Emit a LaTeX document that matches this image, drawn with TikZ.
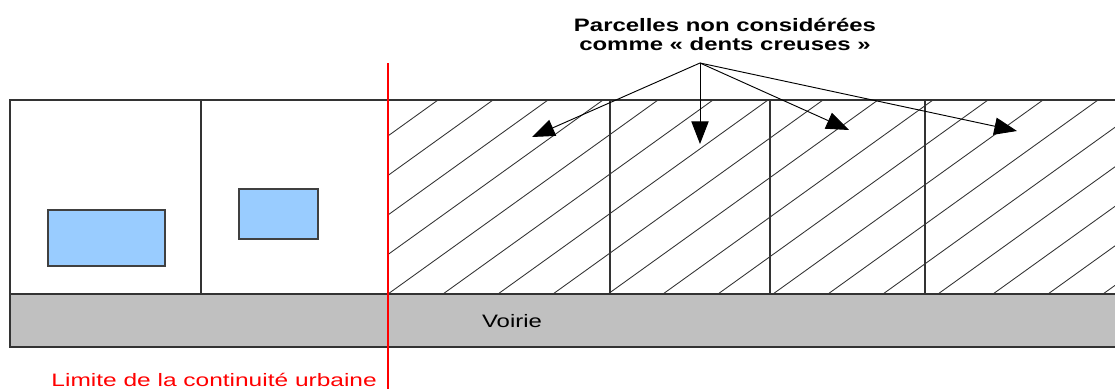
\documentclass[tikz,border=0pt]{standalone}
\usepackage{fontspec}
\setmainfont{Liberation Sans}
\usepackage{graphicx}
\usetikzlibrary{arrows.meta}

\definecolor{roadgray}{HTML}{C0C0C0}
\definecolor{housebl}{HTML}{99CCFF}
\newcommand{\wide}[1]{\scalebox{1.33}[1]{#1}}

\tikzset{
  lot/.style={draw=black!80, line width=1.1pt},
  house/.style={draw=black!75, line width=1.1pt, fill=housebl},
  hatch/.style={black!80, line width=0.65pt},
  pointer/.style={-{Triangle[length=17pt, width=13pt]}, line width=0.7pt},
  lbl/.style={font=\fontsize{13.5}{14.5}\selectfont, inner sep=0pt}
}

\begin{document}
\begin{tikzpicture}[x=0.75pt, y=-0.75pt]
    \useasboundingbox (0,0) rectangle (1115,389);
    % voirie
    \fill[roadgray] (10,294) rectangle (1115,347);
    \draw[lot] (1115,347) -- (10,347) -- (10,100) -- (1115,100);
    \draw[lot] (10,294) -- (1115,294);
    % parcelles hachurees
    \begin{scope}
        \clip (388,100) rectangle (1115,294);
        \foreach \k in {-5,...,13}
            \draw[hatch] ({388+55*\k},294) -- ++(270,-194);
    \end{scope}
    \foreach \x in {201,610,770,925}
        \draw[lot] (\x,100) -- (\x,294);
    % batiments
    \draw[house] (48,210) rectangle (165,266);
    \draw[house] (239,189) rectangle (318,239);
    % limite
    \draw[red, line width=1.1pt] (388,63) -- (388,389);
    \node[lbl, anchor=base] (road) at (512,327) {\wide{Voirie}};
    \node[lbl, text=red, anchor=base east] (limit) at (377,386.5)
        {\scalebox{1.36}[1]{Limite de la continuité urbaine}};
    \node[lbl, font=\fontsize{13.5}{14.5}\selectfont\bfseries] (note) at (725,37)
        {\wide{\begin{tabular}{@{}c@{}}Parcelles non considérées\\comme « dents creuses »\end{tabular}}};
    % fleches
    \coordinate (src) at (700,63);
    \coordinate (p1) at (532,137);
    \coordinate (p2) at (700,144);
    \coordinate (p3) at (849,130);
    \coordinate (p4) at (1017,131);
    \foreach \p in {p1,p2,p3,p4}
        \draw[pointer] (src) -- (\p);
\end{tikzpicture}
\end{document}
